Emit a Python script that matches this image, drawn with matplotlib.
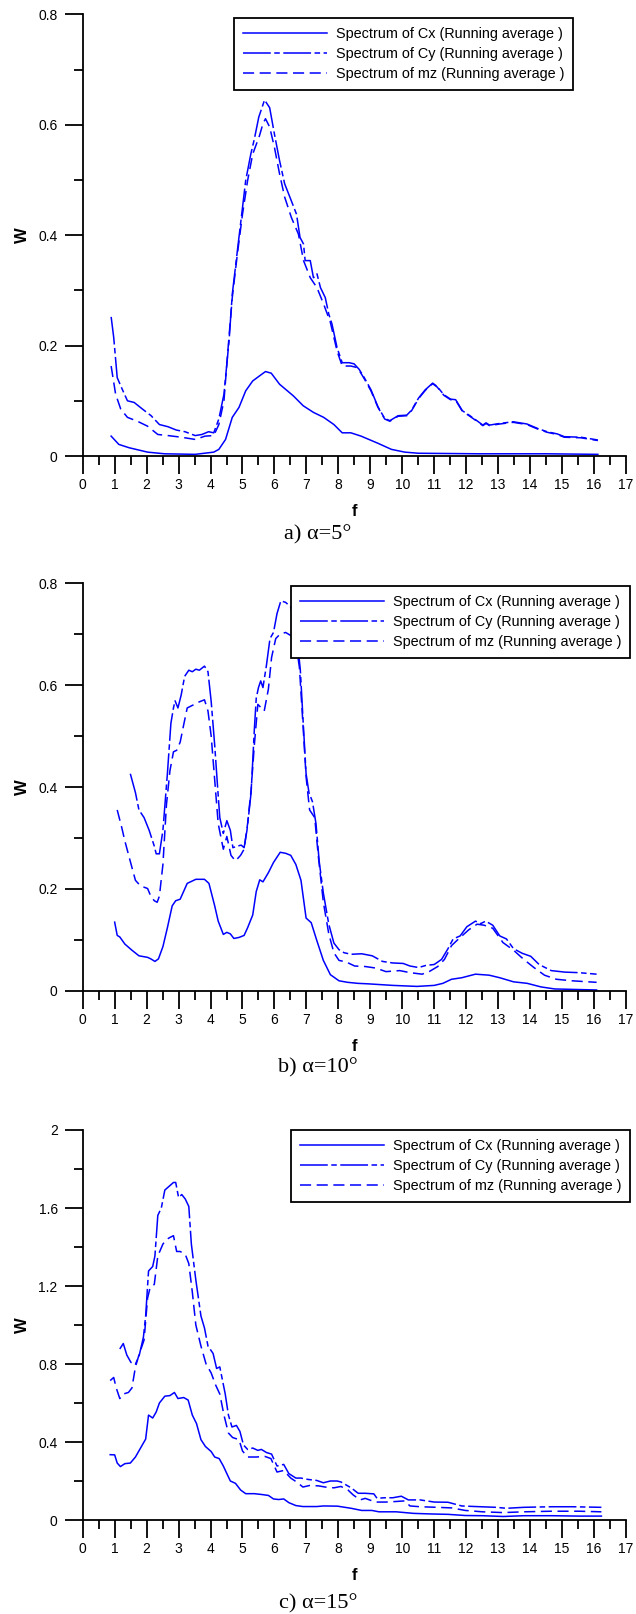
import matplotlib
matplotlib.use('Agg')
import matplotlib.pyplot as plt
from matplotlib.ticker import MultipleLocator, FormatStrFormatter

# panel a) alpha = 5 deg
fa_cx = [0.89, 1.13, 1.45, 2.03, 2.56, 3.52, 4.10, 4.26, 4.47, 4.68,
         4.89, 5.10, 5.32, 5.53, 5.72, 5.90, 6.16, 6.59, 6.90, 7.22,
         7.54, 7.86, 8.12, 8.39, 8.71, 9.24, 9.66, 10.08, 10.5, 12.4,
         14.5, 16.12]
wa_cx = [0.036, 0.021, 0.015, 0.007, 0.004, 0.003, 0.007, 0.012, 0.030, 0.070,
         0.088, 0.118, 0.136, 0.145, 0.153, 0.150, 0.130, 0.109, 0.091, 0.079,
         0.070, 0.057, 0.042, 0.042, 0.036, 0.023, 0.012, 0.007, 0.005, 0.004,
         0.004, 0.003]
fa_cy = [0.89, 0.97, 1.08, 1.19, 1.40, 1.61, 1.87, 2.14, 2.40, 2.67,
         2.93, 3.20, 3.52, 3.73, 3.94, 4.10, 4.26, 4.42, 4.58, 4.68,
         4.84, 5.00, 5.10, 5.26, 5.37, 5.51, 5.69, 5.85, 6.00, 6.16,
         6.32, 6.53, 6.69, 6.80, 6.91, 6.96, 7.12, 7.22, 7.33, 7.44,
         7.59, 7.70, 7.80, 7.96, 8.12, 8.34, 8.49, 8.65, 8.81, 9.02,
         9.24, 9.45, 9.61, 9.87, 10.14, 10.29, 10.51, 10.72, 10.95, 11.09,
         11.30, 11.51, 11.67, 11.88, 12.09, 12.31, 12.52, 12.62, 12.73, 13.05,
         13.47, 13.90, 14.23, 14.53, 14.85, 15.07, 15.59, 16.12]
wa_cy = [0.252, 0.215, 0.142, 0.127, 0.100, 0.097, 0.085, 0.073, 0.057, 0.053,
         0.047, 0.044, 0.037, 0.039, 0.044, 0.042, 0.067, 0.112, 0.209, 0.293,
         0.372, 0.450, 0.499, 0.547, 0.574, 0.614, 0.645, 0.631, 0.583, 0.535,
         0.493, 0.462, 0.438, 0.396, 0.384, 0.354, 0.354, 0.323, 0.330, 0.305,
         0.287, 0.257, 0.239, 0.196, 0.169, 0.169, 0.167, 0.157, 0.142, 0.120,
         0.089, 0.068, 0.064, 0.073, 0.074, 0.083, 0.105, 0.120, 0.132, 0.126,
         0.111, 0.103, 0.102, 0.082, 0.074, 0.065, 0.056, 0.060, 0.056, 0.059,
         0.062, 0.058, 0.050, 0.044, 0.040, 0.035, 0.034, 0.029]
fa_mz = [0.89, 1.03, 1.19, 1.40, 1.71, 2.03, 2.35, 2.67, 3.09, 3.52,
         3.83, 4.10, 4.26, 4.42, 4.55, 4.68, 4.84, 5.00, 5.16, 5.32,
         5.53, 5.64, 5.72, 5.85, 6.00, 6.16, 6.32, 6.53, 6.75, 6.91,
         7.12, 7.33, 7.54, 7.75, 7.96, 8.12, 8.39, 8.60, 8.81, 9.02,
         9.24, 9.45, 9.61, 9.87, 10.14, 10.29, 10.51, 10.72, 10.95, 11.09,
         11.30, 11.51, 11.67, 11.88, 12.09, 12.31, 12.52, 12.62, 12.73, 13.05,
         13.47, 13.90, 14.23, 14.53, 14.85, 15.07, 15.59, 16.12]
wa_mz = [0.163, 0.112, 0.085, 0.070, 0.063, 0.054, 0.039, 0.037, 0.034, 0.030,
         0.036, 0.037, 0.057, 0.100, 0.196, 0.287, 0.366, 0.438, 0.499, 0.547,
         0.580, 0.602, 0.611, 0.596, 0.559, 0.511, 0.469, 0.432, 0.402, 0.354,
         0.323, 0.305, 0.275, 0.242, 0.190, 0.163, 0.163, 0.160, 0.140, 0.118,
         0.088, 0.067, 0.063, 0.072, 0.073, 0.082, 0.104, 0.119, 0.131, 0.125,
         0.110, 0.102, 0.101, 0.081, 0.073, 0.064, 0.055, 0.059, 0.055, 0.058,
         0.061, 0.057, 0.049, 0.043, 0.039, 0.034, 0.033, 0.028]

# panel b) alpha = 10 deg
fb_cx = [1.0, 1.08, 1.16, 1.32, 1.54, 1.76, 2.03, 2.13, 2.26, 2.37,
         2.51, 2.65, 2.80, 2.91, 3.05, 3.27, 3.54, 3.81, 3.95, 4.13,
         4.24, 4.40, 4.51, 4.62, 4.73, 4.89, 5.05, 5.16, 5.32, 5.43,
         5.54, 5.64, 5.81, 5.97, 6.18, 6.35, 6.51, 6.67, 6.83, 6.99,
         7.15, 7.32, 7.53, 7.75, 8.02, 8.29, 8.61, 8.94, 9.70, 10.46,
         11.0, 11.27, 11.54, 11.86, 12.29, 12.72, 13.05, 13.48, 13.91, 14.34,
         14.77, 15.42, 16.08]
wb_cx = [0.135, 0.109, 0.106, 0.092, 0.080, 0.069, 0.066, 0.063, 0.058, 0.063,
         0.087, 0.124, 0.167, 0.177, 0.180, 0.211, 0.219, 0.219, 0.211, 0.167,
         0.137, 0.111, 0.115, 0.112, 0.103, 0.105, 0.109, 0.124, 0.149, 0.195,
         0.218, 0.214, 0.232, 0.252, 0.272, 0.270, 0.266, 0.248, 0.217, 0.143,
         0.134, 0.100, 0.060, 0.032, 0.020, 0.017, 0.015, 0.014, 0.011, 0.009,
         0.011, 0.015, 0.023, 0.026, 0.033, 0.031, 0.026, 0.018, 0.015, 0.008,
         0.004, 0.003, 0.002]
fb_cy = [1.49, 1.65, 1.76, 1.92, 2.08, 2.24, 2.30, 2.40, 2.51, 2.65,
         2.76, 2.84, 2.89, 2.98, 3.08, 3.19, 3.32, 3.43, 3.54, 3.65,
         3.81, 3.92, 4.02, 4.13, 4.24, 4.29, 4.40, 4.51, 4.62, 4.70,
         4.83, 4.96, 5.05, 5.14, 5.27, 5.37, 5.43, 5.50, 5.57, 5.64,
         5.75, 5.86, 5.97, 6.08, 6.20, 6.35, 6.51, 6.62, 6.72, 6.81,
         6.89, 6.99, 7.08, 7.19, 7.30, 7.40, 7.53, 7.70, 7.86, 8.02,
         8.18, 8.40, 8.73, 9.06, 9.38, 9.70, 10.03, 10.24, 10.51, 10.73,
         11.0, 11.23, 11.43, 11.59, 11.81, 12.02, 12.29, 12.45, 12.61, 12.83,
         13.05, 13.26, 13.48, 13.75, 14.02, 14.28, 14.66, 15.09, 15.52, 16.08]
wb_cy = [0.426, 0.389, 0.355, 0.340, 0.315, 0.284, 0.269, 0.269, 0.315, 0.426,
         0.525, 0.555, 0.569, 0.555, 0.580, 0.617, 0.629, 0.626, 0.631, 0.629,
         0.637, 0.626, 0.568, 0.482, 0.383, 0.340, 0.309, 0.334, 0.315, 0.281,
         0.284, 0.286, 0.281, 0.315, 0.389, 0.512, 0.574, 0.595, 0.608, 0.595,
         0.639, 0.691, 0.703, 0.740, 0.765, 0.762, 0.753, 0.722, 0.685, 0.629,
         0.537, 0.426, 0.389, 0.371, 0.328, 0.254, 0.192, 0.131, 0.094, 0.081,
         0.075, 0.072, 0.073, 0.069, 0.058, 0.055, 0.054, 0.049, 0.046, 0.050,
         0.052, 0.062, 0.083, 0.102, 0.108, 0.126, 0.137, 0.132, 0.137, 0.129,
         0.108, 0.102, 0.083, 0.074, 0.068, 0.052, 0.040, 0.037, 0.036, 0.033]
fb_mz = [1.08, 1.22, 1.32, 1.49, 1.65, 1.81, 2.03, 2.13, 2.24, 2.33,
         2.40, 2.51, 2.62, 2.73, 2.84, 2.94, 3.05, 3.16, 3.27, 3.43,
         3.65, 3.81, 3.92, 4.02, 4.13, 4.24, 4.40, 4.51, 4.64, 4.78,
         4.94, 5.05, 5.16, 5.27, 5.37, 5.48, 5.59, 5.68, 5.81, 5.91,
         6.04, 6.18, 6.35, 6.51, 6.65, 6.78, 6.89, 6.99, 7.10, 7.26,
         7.37, 7.53, 7.70, 7.86, 8.02, 8.24, 8.51, 8.84, 9.17, 9.49,
         9.92, 10.24, 10.62, 10.84, 11.11, 11.32, 11.54, 11.76, 12.08, 12.34,
         12.56, 12.83, 13.15, 13.48, 13.80, 14.12, 14.45, 14.82, 15.31, 16.08]
wb_mz = [0.355, 0.321, 0.294, 0.254, 0.217, 0.206, 0.201, 0.186, 0.177, 0.174,
         0.186, 0.248, 0.365, 0.432, 0.469, 0.472, 0.488, 0.522, 0.555, 0.560,
         0.567, 0.571, 0.549, 0.500, 0.414, 0.328, 0.278, 0.303, 0.266, 0.255,
         0.266, 0.278, 0.328, 0.395, 0.482, 0.562, 0.555, 0.549, 0.592, 0.654,
         0.691, 0.700, 0.703, 0.697, 0.691, 0.635, 0.525, 0.420, 0.355, 0.340,
         0.266, 0.174, 0.112, 0.075, 0.060, 0.057, 0.049, 0.048, 0.045, 0.038,
         0.040, 0.036, 0.033, 0.038, 0.048, 0.062, 0.089, 0.102, 0.120, 0.131,
         0.129, 0.123, 0.095, 0.080, 0.062, 0.046, 0.031, 0.023, 0.020, 0.017]

# panel c) alpha = 15 deg
fc_cx = [0.86, 1.0, 1.08, 1.18, 1.32, 1.49, 1.65, 1.81, 1.97, 2.06,
         2.19, 2.30, 2.40, 2.57, 2.73, 2.87, 2.98, 3.16, 3.30, 3.43,
         3.56, 3.70, 3.84, 4.02, 4.13, 4.27, 4.40, 4.51, 4.62, 4.78,
         4.94, 5.10, 5.37, 5.59, 5.81, 5.97, 6.13, 6.29, 6.45, 6.67,
         6.89, 7.10, 7.32, 7.54, 7.97, 8.40, 8.73, 9.05, 9.27, 9.81,
         10.35, 10.89, 11.43, 11.97, 12.51, 13.16, 13.80, 14.67, 15.53, 16.23]
wc_cx = [0.335, 0.334, 0.292, 0.274, 0.289, 0.292, 0.323, 0.369, 0.415, 0.538,
         0.523, 0.554, 0.600, 0.635, 0.638, 0.654, 0.623, 0.628, 0.615, 0.538,
         0.495, 0.412, 0.377, 0.351, 0.323, 0.315, 0.277, 0.238, 0.200, 0.188,
         0.154, 0.135, 0.135, 0.131, 0.126, 0.108, 0.105, 0.108, 0.089, 0.074,
         0.069, 0.069, 0.069, 0.072, 0.071, 0.060, 0.049, 0.049, 0.042, 0.042,
         0.034, 0.031, 0.029, 0.023, 0.022, 0.018, 0.022, 0.022, 0.020, 0.020]
fc_cy = [1.16, 1.27, 1.38, 1.51, 1.65, 1.76, 1.90, 1.97, 2.06, 2.19,
         2.26, 2.35, 2.46, 2.57, 2.73, 2.84, 2.91, 3.0, 3.10, 3.21,
         3.32, 3.40, 3.54, 3.70, 3.81, 3.92, 4.08, 4.19, 4.29, 4.46,
         4.56, 4.67, 4.81, 4.92, 5.03, 5.16, 5.32, 5.48, 5.59, 5.75,
         5.91, 6.08, 6.29, 6.45, 6.67, 6.83, 7.05, 7.32, 7.53, 7.75,
         7.96, 8.08, 8.40, 8.62, 8.84, 9.11, 9.21, 9.43, 9.70, 9.97,
         10.19, 10.56, 11.0, 11.43, 11.86, 12.29, 12.94, 13.26, 13.80, 14.67,
         15.32, 16.23]
wc_cy = [0.877, 0.905, 0.846, 0.808, 0.800, 0.838, 0.938, 1.046, 1.277, 1.300,
         1.354, 1.562, 1.600, 1.692, 1.715, 1.731, 1.731, 1.654, 1.669, 1.646,
         1.608, 1.415, 1.231, 1.046, 0.985, 0.892, 0.854, 0.777, 0.785, 0.646,
         0.538, 0.477, 0.485, 0.454, 0.385, 0.362, 0.369, 0.357, 0.362, 0.346,
         0.338, 0.277, 0.285, 0.238, 0.215, 0.215, 0.208, 0.203, 0.191, 0.200,
         0.200, 0.195, 0.165, 0.137, 0.137, 0.134, 0.111, 0.114, 0.114, 0.122,
         0.103, 0.103, 0.092, 0.091, 0.072, 0.069, 0.065, 0.060, 0.065, 0.068,
         0.068, 0.065]
fc_mz = [0.86, 0.97, 1.05, 1.16, 1.27, 1.43, 1.54, 1.65, 1.76, 1.92,
         2.03, 2.11, 2.24, 2.35, 2.51, 2.62, 2.73, 2.84, 2.94, 3.05,
         3.21, 3.32, 3.43, 3.54, 3.70, 3.86, 4.02, 4.16, 4.29, 4.42,
         4.56, 4.69, 4.89, 5.0, 5.16, 5.43, 5.70, 5.89, 6.08, 6.29,
         6.51, 6.72, 6.89, 7.10, 7.38, 7.59, 7.86, 8.08, 8.30, 8.46,
         8.68, 8.84, 9.16, 9.48, 9.81, 10.08, 10.24, 10.56, 11.10, 11.54,
         11.97, 12.51, 13.16, 13.80, 14.67, 15.53, 16.23]
wc_mz = [0.715, 0.731, 0.677, 0.623, 0.646, 0.654, 0.677, 0.785, 0.846, 0.923,
         1.138, 1.192, 1.208, 1.354, 1.415, 1.438, 1.449, 1.458, 1.377, 1.377,
         1.362, 1.315, 1.169, 1.000, 0.892, 0.800, 0.754, 0.692, 0.646, 0.538,
         0.446, 0.423, 0.412, 0.354, 0.323, 0.323, 0.326, 0.315, 0.246, 0.254,
         0.215, 0.192, 0.169, 0.177, 0.175, 0.169, 0.165, 0.172, 0.154, 0.129,
         0.103, 0.111, 0.092, 0.092, 0.095, 0.098, 0.072, 0.068, 0.065, 0.062,
         0.049, 0.042, 0.038, 0.042, 0.045, 0.045, 0.042]

labels = ["Spectrum of Cx (Running average )",
          "Spectrum of Cy (Running average )",
          "Spectrum of mz (Running average )"]
captions = ["a) \u03b1=5\u00b0", "b) \u03b1=10\u00b0", "c) \u03b1=15\u00b0"]

plt.rcParams['font.family'] = ['Liberation Sans', 'DejaVu Sans']
plt.rcParams['lines.scale_dashes'] = False

W, H = 636.0, 1614.0
fig = plt.figure(figsize=(W / 100, H / 100), dpi=100)

# axes boxes in pixels: left, right(f=17), top, bottom(y=0)
boxes = [(82.7, 626, 14.4, 456), (82.7, 626, 583, 991), (82.7, 626, 1130, 1520)]
ytops = [0.8, 0.8, 2.0]
ymaj = [0.2, 0.2, 0.4]
cap_y = [535, 1068, 1604]
leg_pos = [(573, 18), (630, 586), (630, 1130)]
panels = [
    (fa_cx, wa_cx, fa_cy, wa_cy, fa_mz, wa_mz),
    (fb_cx, wb_cx, fb_cy, wb_cy, fb_mz, wb_mz),
    (fc_cx, wc_cx, fc_cy, wc_cy, fc_mz, wc_mz),
]
blue = '#0000ff'

for i in range(3):
    l, r, t, b = boxes[i]
    ax = fig.add_axes([l / W, 1 - b / H, (r - l) / W, (b - t) / H])
    f1, w1, f2, w2, f3, w3 = panels[i]
    ax.plot(f1, w1, color=blue, lw=1.1, label=labels[0])
    ax.plot(f2, w2, color=blue, lw=1.1, dashes=(20, 2.5, 4, 2.5), label=labels[1])
    ax.plot(f3, w3, color=blue, lw=1.1, dashes=(8, 4), label=labels[2])

    ax.set_xlim(0, 17)
    ax.set_ylim(0, ytops[i])
    ax.spines['top'].set_visible(False)
    ax.spines['right'].set_visible(False)
    ax.spines['left'].set_linewidth(1.3)
    ax.spines['bottom'].set_linewidth(1.3)
    ax.xaxis.set_major_locator(MultipleLocator(1))
    ax.xaxis.set_minor_locator(MultipleLocator(0.5))
    ax.yaxis.set_major_locator(MultipleLocator(ymaj[i]))
    ax.yaxis.set_minor_locator(MultipleLocator(ymaj[i] / 2))
    ax.yaxis.set_major_formatter(FormatStrFormatter('%g'))
    ax.tick_params(which='major', direction='out', length=13, width=1.3, labelsize=10)
    ax.tick_params(which='minor', direction='out', length=6.5, width=1.3)
    ax.tick_params(axis='x', which='major', pad=2.5)
    ax.tick_params(axis='y', which='major', pad=5)
    ax.set_xlabel('f', fontsize=12, fontweight='bold', labelpad=9)
    ax.set_ylabel('W', fontsize=12, fontweight='bold', labelpad=6)

    lx, ly = leg_pos[i]
    leg = ax.legend(loc='upper right', bbox_to_anchor=((lx - l) / (r - l), 1 - (ly - t) / (b - t)),
                    borderaxespad=0, fontsize=10.4, frameon=True, fancybox=False,
                    handlelength=5.8, handletextpad=0.6, labelspacing=0.42, borderpad=0.62)
    leg.get_frame().set_edgecolor('black')
    leg.get_frame().set_linewidth(1.3)
    leg.get_frame().set_alpha(1)

    fig.text(0.5, 1 - cap_y[i] / H, captions[i], ha='center', va='center',
             fontsize=16, family=['Liberation Serif', 'DejaVu Serif'])

plt.savefig("out.png", dpi=100)
print("done!")
